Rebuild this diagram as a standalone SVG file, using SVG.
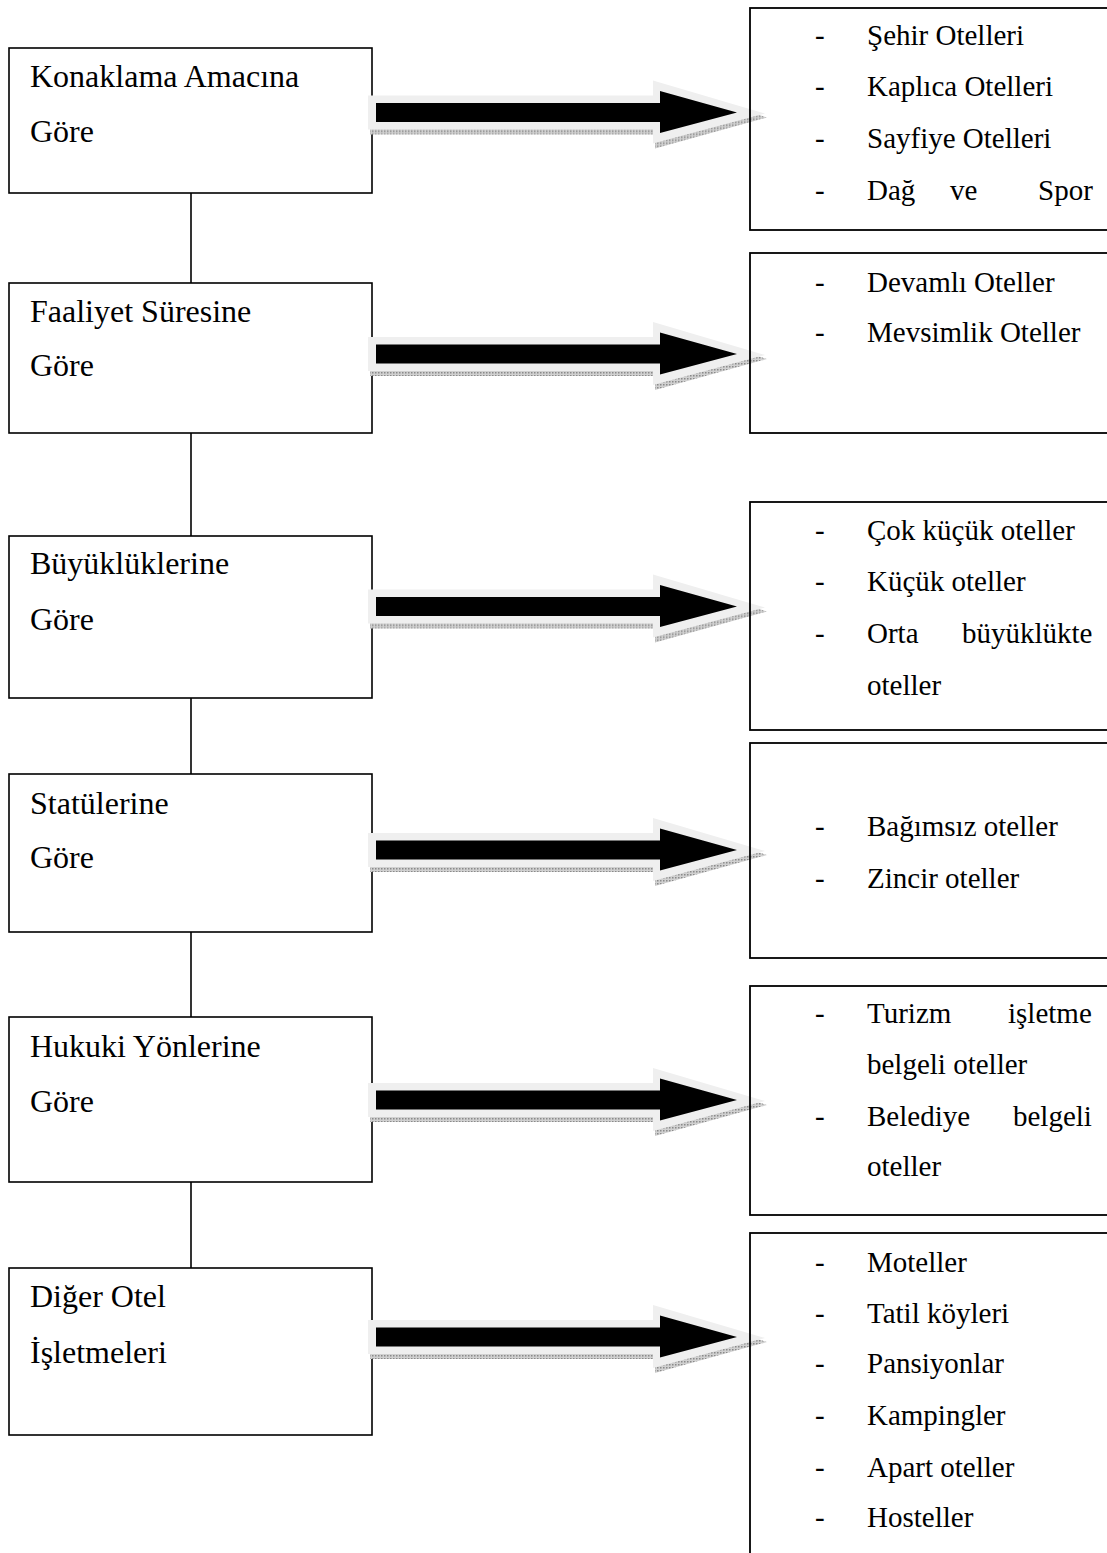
<svg xmlns="http://www.w3.org/2000/svg" xmlns:xlink="http://www.w3.org/1999/xlink" width="1107" height="1553" viewBox="0 0 1107 1553">
<style>
  .lbox { fill: #ffffff; stroke: #000; stroke-width: 1.6; }
  .rbox { fill: none; stroke: #000; stroke-width: 1.8; }
  .ltxt { font-family: "Liberation Serif", "Times New Roman", serif; font-size: 32px; fill: #000; }
  .rtxt { font-family: "Liberation Serif", "Times New Roman", serif; font-size: 29px; fill: #000; }
  .link { stroke: #000; stroke-width: 1.6; fill: none; }
</style>
<defs>
  <pattern id="dots" width="3" height="3" patternUnits="userSpaceOnUse">
    <rect width="3" height="3" fill="#d0d0d0"/>
    <rect width="1.5" height="1.5" fill="#8a8a8a"/>
  </pattern>
  <g id="bigArrow">
    <polygon points="370,-15 655,-15 655,-30 767,5 655,36 655,22 370,22" fill="url(#dots)"/>
    <polygon points="368,-17 653,-17 653,-32 765,1 653,31 653,17 368,17" fill="#efefef"/>
    <polygon points="376,-9.5 660,-9.5 660,-21.5 737,0 660,20.5 660,9.5 376,9.5" fill="#000"/>
  </g>
</defs>

<g id="node-konaklama">
  <rect class="lbox" x="9" y="48" width="363" height="145"/>
  <text class="ltxt" x="30" y="87">Konaklama Amacına</text>
  <text class="ltxt" x="30" y="142">Göre</text>
</g>
<g id="node-faaliyet">
  <rect class="lbox" x="9" y="283" width="363" height="150"/>
  <text class="ltxt" x="30" y="322">Faaliyet Süresine</text>
  <text class="ltxt" x="30" y="376">Göre</text>
</g>
<g id="node-buyukluk">
  <rect class="lbox" x="9" y="536" width="363" height="162"/>
  <text class="ltxt" x="30" y="574">Büyüklüklerine</text>
  <text class="ltxt" x="30" y="630">Göre</text>
</g>
<g id="node-statu">
  <rect class="lbox" x="9" y="774" width="363" height="158"/>
  <text class="ltxt" x="30" y="814">Statülerine</text>
  <text class="ltxt" x="30" y="868">Göre</text>
</g>
<g id="node-hukuki">
  <rect class="lbox" x="9" y="1017" width="363" height="165"/>
  <text class="ltxt" x="30" y="1057">Hukuki Yönlerine</text>
  <text class="ltxt" x="30" y="1112">Göre</text>
</g>
<g id="node-diger">
  <rect class="lbox" x="9" y="1268" width="363" height="167"/>
  <text class="ltxt" x="30" y="1307">Diğer Otel</text>
  <text class="ltxt" x="30" y="1363">İşletmeleri</text>
</g>

<g id="connectors">
  <line class="link" x1="191" y1="193" x2="191" y2="283"/>
  <line class="link" x1="191" y1="433" x2="191" y2="536"/>
  <line class="link" x1="191" y1="698" x2="191" y2="774"/>
  <line class="link" x1="191" y1="932" x2="191" y2="1017"/>
  <line class="link" x1="191" y1="1182" x2="191" y2="1268"/>
  <use xlink:href="#bigArrow" href="#bigArrow" transform="translate(0,112.5)"/>
  <use xlink:href="#bigArrow" href="#bigArrow" transform="translate(0,354)"/>
  <use xlink:href="#bigArrow" href="#bigArrow" transform="translate(0,606.5)"/>
  <use xlink:href="#bigArrow" href="#bigArrow" transform="translate(0,850)"/>
  <use xlink:href="#bigArrow" href="#bigArrow" transform="translate(0,1100)"/>
  <use xlink:href="#bigArrow" href="#bigArrow" transform="translate(0,1337)"/>
</g>

<g id="node-r1">
  <rect class="rbox" x="750" y="8" width="400" height="222"/>
  <text class="rtxt" x="815" y="45">-</text><text class="rtxt" x="867" y="45">Şehir Otelleri</text>
  <text class="rtxt" x="815" y="96">-</text><text class="rtxt" x="867" y="96">Kaplıca Otelleri</text>
  <text class="rtxt" x="815" y="148">-</text><text class="rtxt" x="867" y="148">Sayfiye Otelleri</text>
  <text class="rtxt" x="815" y="200">-</text><text class="rtxt" y="200"><tspan x="867">Dağ</tspan><tspan x="950">ve</tspan><tspan x="1038">Spor</tspan></text>
</g>
<g id="node-r2">
  <rect class="rbox" x="750" y="253" width="400" height="180"/>
  <text class="rtxt" x="815" y="292">-</text><text class="rtxt" x="867" y="292">Devamlı Oteller</text>
  <text class="rtxt" x="815" y="342">-</text><text class="rtxt" x="867" y="342">Mevsimlik Oteller</text>
</g>
<g id="node-r3">
  <rect class="rbox" x="750" y="502" width="400" height="228"/>
  <text class="rtxt" x="815" y="540">-</text><text class="rtxt" x="867" y="540">Çok küçük oteller</text>
  <text class="rtxt" x="815" y="591">-</text><text class="rtxt" x="867" y="591">Küçük oteller</text>
  <text class="rtxt" x="815" y="643">-</text><text class="rtxt" y="643"><tspan x="867">Orta</tspan><tspan x="962">büyüklükte</tspan></text>
  <text class="rtxt" x="867" y="695">oteller</text>
</g>
<g id="node-r4">
  <rect class="rbox" x="750" y="743" width="400" height="215"/>
  <text class="rtxt" x="815" y="836">-</text><text class="rtxt" x="867" y="836">Bağımsız oteller</text>
  <text class="rtxt" x="815" y="888">-</text><text class="rtxt" x="867" y="888">Zincir oteller</text>
</g>
<g id="node-r5">
  <rect class="rbox" x="750" y="986" width="400" height="229"/>
  <text class="rtxt" x="815" y="1023">-</text><text class="rtxt" y="1023"><tspan x="867">Turizm</tspan><tspan x="1008">işletme</tspan></text>
  <text class="rtxt" x="867" y="1074">belgeli oteller</text>
  <text class="rtxt" x="815" y="1126">-</text><text class="rtxt" y="1126"><tspan x="867">Belediye</tspan><tspan x="1013">belgeli</tspan></text>
  <text class="rtxt" x="867" y="1176">oteller</text>
</g>
<g id="node-r6">
  <rect class="rbox" x="750" y="1233" width="400" height="340"/>
  <text class="rtxt" x="815" y="1272">-</text><text class="rtxt" x="867" y="1272">Moteller</text>
  <text class="rtxt" x="815" y="1323">-</text><text class="rtxt" x="867" y="1323">Tatil köyleri</text>
  <text class="rtxt" x="815" y="1373">-</text><text class="rtxt" x="867" y="1373">Pansiyonlar</text>
  <text class="rtxt" x="815" y="1425">-</text><text class="rtxt" x="867" y="1425">Kampingler</text>
  <text class="rtxt" x="815" y="1477">-</text><text class="rtxt" x="867" y="1477">Apart oteller</text>
  <text class="rtxt" x="815" y="1527">-</text><text class="rtxt" x="867" y="1527">Hosteller</text>
</g>
</svg>
